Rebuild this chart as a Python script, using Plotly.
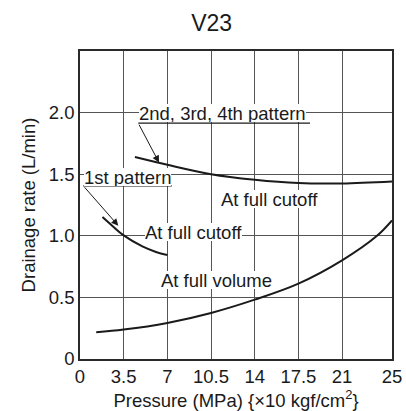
import plotly.graph_objects as go

# Drainage rate vs pressure, V23
pressure_ticks = [0, 3.5, 7, 10.5, 14, 17.5, 21, 25]
pressure_labels = ["0", "3.5", "7", "10.5", "14", "17.5", "21", "25"]
rate_ticks = [0, 0.5, 1.0, 1.5, 2.0, 2.5]
rate_labels = ["0", "0.5", "1.0", "1.5", "2.0", ""]

# 2nd, 3rd, 4th pattern at full cutoff
p234_x = [4.4, 7.0, 10.5, 14.0, 17.5, 21.0, 25.0]
p234_y = [1.639, 1.576, 1.500, 1.455, 1.428, 1.425, 1.441]

# 1st pattern at full cutoff
p1_x = [1.8, 2.62, 3.5, 5.0, 6.09, 7.0]
p1_y = [1.152, 1.078, 1.003, 0.914, 0.869, 0.844]

# All patterns at full volume
vol_x = [1.3, 3.5, 7.0, 10.5, 14.0, 17.5, 21.0, 23.8, 25.0]
vol_y = [0.217, 0.239, 0.293, 0.374, 0.482, 0.612, 0.801, 1.0, 1.125]

FONT = "Liberation Sans, Arial, sans-serif"
INK = "#1a1a1a"
GRID = "#555555"

fig = go.Figure()
for xs, ys in [(p234_x, p234_y), (p1_x, p1_y), (vol_x, vol_y)]:
    fig.add_trace(go.Scatter(
        x=xs, y=ys, mode="lines",
        line=dict(color=INK, width=2, shape="spline", smoothing=1.0),
        showlegend=False, hoverinfo="skip", cliponaxis=False,
    ))

axis_common = dict(
    showgrid=True, gridcolor=GRID, gridwidth=1.4,
    showline=True, linecolor="#2a2a2a", linewidth=1.5, mirror=True,
    zeroline=False, ticks="", automargin=False,
    tickfont=dict(family=FONT, size=18.5, color=INK),
)

fig.update_xaxes(
    range=[0, 25], tickvals=pressure_ticks, ticktext=pressure_labels,
    title=dict(text="Pressure (MPa) {×10 kgf/cm<sup>2</sup>}",
               font=dict(family=FONT, size=18.5, color=INK), standoff=5),
    **axis_common,
)
fig.update_yaxes(
    range=[0, 2.5], tickvals=rate_ticks, ticktext=rate_labels,
    title=dict(text="Drainage rate (L/min)",
               font=dict(family=FONT, size=18.5, color=INK), standoff=8),
    **axis_common,
)

label_font = dict(family=FONT, size=18.5, color=INK)
labels = [
    ("2nd, 3rd, 4th pattern", 11.42, 1.995),
    ("1st pattern", 3.77, 1.477),
    ("At full cutoff", 15.18, 1.298),
    ("At full cutoff", 9.08, 1.028),
    ("At full volume", 10.93, 0.639),
]
for text, x, y in labels:
    fig.add_annotation(
        x=x, y=y, text=text, showarrow=False, font=label_font,
        bgcolor="white", borderpad=0, borderwidth=0, height=18,
        xanchor="center", yanchor="middle",
    )

# Underlines beneath the pattern labels
fig.add_shape(type="line", x0=4.67, x1=18.43, y0=1.914, y1=1.914,
              line=dict(color=INK, width=1.2), layer="above")
fig.add_shape(type="line", x0=0.26, x1=7.35, y0=1.406, y1=1.406,
              line=dict(color=INK, width=1.2), layer="above")

# Leader arrows from the labels to their curves
for (hx, hy), (tx, ty) in [((6.33, 1.595), (4.67, 1.914)),
                           ((3.07, 1.082), (0.26, 1.406))]:
    fig.add_annotation(
        x=hx, y=hy, ax=tx, ay=ty, axref="x", ayref="y", xref="x", yref="y",
        text="", showarrow=True, arrowhead=2, arrowsize=1.4, arrowwidth=1,
        arrowcolor=INK, standoff=0,
    )

fig.update_layout(
    width=406, height=411,
    margin=dict(l=80, r=14, t=51, b=51.5),
    paper_bgcolor="white", plot_bgcolor="white",
    title=dict(text="V23", x=211.7 / 406, xref="container", xanchor="center",
               y=1 - 23.3 / 411, yref="container", yanchor="middle",
               font=dict(family=FONT, size=23, color=INK)),
)

fig.write_html("out.html")
